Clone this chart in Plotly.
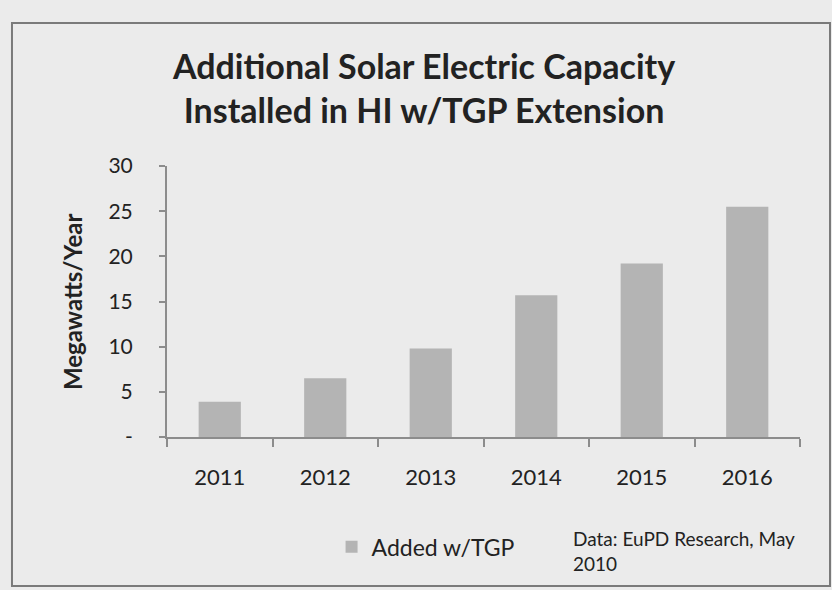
import plotly.graph_objects as go

years = ["2011", "2012", "2013", "2014", "2015", "2016"]
added_mw = [3.9, 6.5, 9.8, 15.7, 19.2, 25.5]
y_ticks = [0, 5, 10, 15, 20, 25, 30]
y_tick_text = ["-", "5", "10", "15", "20", "25", "30"]

BG = "#ebebeb"
INK = "#222222"
BAR = "#b4b4b4"
AXIS = "#8c8c8c"
FONT = "Lato"

fig = go.Figure()
fig.add_trace(go.Bar(
    x=years, y=added_mw, name="Added w/TGP",
    marker=dict(color=BAR, line=dict(width=0)),
    width=0.4,
))

fig.update_layout(
    width=832, height=590,
    margin=dict(l=167, r=32, t=166, b=153),
    paper_bgcolor=BG, plot_bgcolor=BG,
    font=dict(family=FONT, color=INK),
    showlegend=True,
    legend=dict(
        x=0.26, y=-0.405, xanchor="left", yanchor="middle",
        bgcolor="rgba(0,0,0,0)", font=dict(size=23, color=INK),
        itemwidth=30,
    ),
    bargap=0.6,
)

fig.update_xaxes(
    showline=True, linecolor=AXIS, linewidth=2,
    ticks="outside", tickson="boundaries", ticklen=8, tickcolor=AXIS, tickwidth=2,
    ticklabelstandoff=20,
    tickfont=dict(size=22, color=INK), showgrid=False, zeroline=False,
)
fig.update_yaxes(
    range=[0, 30], tickvals=y_ticks, ticktext=y_tick_text,
    showline=True, linecolor=AXIS, linewidth=2,
    ticks="outside", ticklen=6, tickcolor=AXIS, tickwidth=2,
    ticklabelstandoff=22,
    tickfont=dict(size=21, color=INK), showgrid=False, zeroline=False,
)

# Chart frame
fig.add_shape(
    type="rect", xref="paper", yref="paper",
    x0=-0.2449, x1=1.0474, y0=-0.5498, y1=1.5277,
    line=dict(color="#7a7a7a", width=2), fillcolor="rgba(0,0,0,0)", layer="below",
)

# Title
fig.add_annotation(
    text="<b>Additional Solar Electric Capacity</b><br><b>Installed in HI w/TGP Extension</b>",
    xref="paper", yref="paper", x=0.405, y=1.29, showarrow=False,
    font=dict(size=34, color=INK, family=FONT), align="center",
    xanchor="center", yanchor="middle",
)

# Y-axis title
fig.add_annotation(
    text="<b>Megawatts/Year</b>", xref="paper", yref="paper",
    x=-0.150, y=0.498, textangle=-90, showarrow=False,
    xanchor="center", yanchor="middle",
    font=dict(size=24, color=INK, family=FONT),
)

# Source note
fig.add_annotation(
    text="Data: EuPD Research, May<br>2010", xref="paper", yref="paper",
    x=0.638, y=-0.42, xanchor="left", yanchor="middle", align="left",
    showarrow=False, font=dict(size=19, color=INK, family=FONT),
)

fig.write_html("out.html")
